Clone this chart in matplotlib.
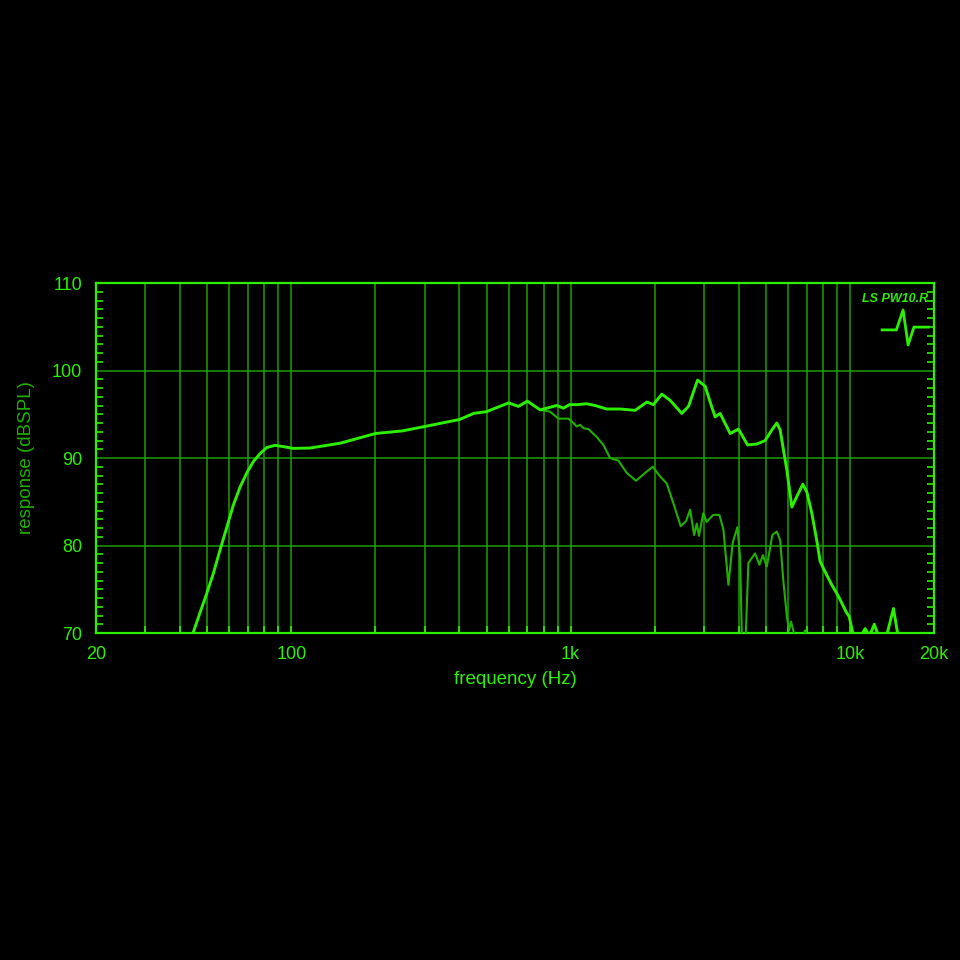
import numpy as np
import matplotlib.pyplot as plt
from matplotlib.ticker import FixedLocator, FixedFormatter, MultipleLocator, NullFormatter

# on-axis response (Hz, dB)
freq_main = [44.5, 47.1, 49.8, 52.6, 55.6, 58.8, 62.0, 65.6, 69.3, 73.2, 77.3, 81.7,
             87.5, 93.7, 101.7, 116.8, 150, 200, 250, 300, 400, 450, 500, 600, 650,
             700, 778, 822, 892, 942, 990, 1052, 1143, 1224, 1346, 1503, 1702, 1875,
             1978, 2120, 2270, 2500, 2642, 2846, 3032, 3158, 3290, 3428, 3724, 3990,
             4298, 4644, 4972, 5250, 5470, 5624, 5944, 6194, 6452, 6780, 7010, 7300,
             7604, 7816, 8144, 8608, 9092, 9356, 9688, 9930, 10234, 10800, 11100,
             11334, 11550, 11870, 12220, 12530, 13100, 13600, 14310, 14800, 15500]
db_main = [70.0, 72.3, 74.5, 76.8, 79.5, 82.1, 84.6, 86.7, 88.3, 89.6, 90.5, 91.2,
           91.45, 91.3, 91.1, 91.14, 91.7, 92.8, 93.1, 93.6, 94.4, 95.1, 95.3, 96.3,
           95.9, 96.5, 95.5, 95.7, 96.0, 95.7, 96.1, 96.1, 96.2, 96.0, 95.6, 95.6,
           95.45, 96.4, 96.1, 97.3, 96.6, 95.1, 95.9, 98.9, 98.2, 96.4, 94.7, 95.1,
           92.8, 93.3, 91.5, 91.6, 92.0, 93.2, 94.0, 93.2, 88.6, 84.4, 85.6, 87.0,
           86.1, 83.7, 80.6, 78.2, 77.0, 75.5, 74.2, 73.4, 72.4, 71.9, 70.0, 68.0,
           70.0, 70.5, 70.0, 70.0, 71.0, 70.0, 68.0, 70.0, 72.8, 70.0, 67.0]

# off-axis response (Hz, dB)
freq_off = [778, 844, 904, 982, 1024, 1052, 1082, 1112, 1159, 1240, 1310, 1384, 1482,
            1588, 1715, 1848, 1968, 2090, 2208, 2334, 2478, 2590, 2678, 2768, 2828,
            2880, 2984, 3070, 3238, 3408, 3524, 3672, 3802, 3952, 4042, 4112, 4216,
            4328, 4572, 4742, 4876, 5038, 5274, 5470, 5624, 5768, 5944, 6050, 6150,
            6300, 6400, 6700, 6900, 7100]
db_off = [95.5, 95.3, 94.5, 94.5, 94.0, 93.6, 93.8, 93.4, 93.3, 92.4, 91.5, 90.0, 89.7,
          88.3, 87.4, 88.3, 89.0, 87.9, 87.1, 84.8, 82.2, 82.8, 84.1, 81.2, 82.5,
          81.1, 83.7, 82.7, 83.5, 83.5, 81.8, 75.5, 80.3, 82.1, 78.7, 68.0, 68.0,
          78.0, 79.1, 77.8, 78.9, 77.6, 81.2, 81.6, 80.6, 76.1, 71.9, 70.3, 71.3,
          70.0, 68.0, 69.0, 70.3, 69.0]

x_ticks = [20, 100, 1000, 10000, 20000]
x_labels = ["20", "100", "1k", "10k", "20k"]
y_ticks = [70, 80, 90, 100, 110]

bright = "#2cf000"
dim = "#22b000"
grid_c = "#1fae00"

plt.rcParams['font.family'] = ['Liberation Sans', 'DejaVu Sans']
fig = plt.figure(figsize=(9.6, 9.6), dpi=100, facecolor="black")
ax = fig.add_axes([0.1, 0.3406, 0.873, 0.3646], facecolor="black")

ax.set_xscale("log")
ax.set_xlim(20, 20000)
ax.set_ylim(70, 110)

# grid
ax.grid(True, which="both", axis="x", color=grid_c, linewidth=1.1, alpha=0.9)
ax.grid(True, which="major", axis="y", color=grid_c, linewidth=1.1, alpha=0.9)

ax.plot(freq_off, db_off, color=dim, linewidth=1.5, zorder=3,
        solid_joinstyle="round", solid_capstyle="round")
ax.plot(freq_main, db_main, color=bright, linewidth=2.1, zorder=4,
        solid_joinstyle="round", solid_capstyle="round")

ax.xaxis.set_major_locator(FixedLocator(x_ticks))
ax.xaxis.set_major_formatter(FixedFormatter(x_labels))
ax.xaxis.set_minor_formatter(NullFormatter())
ax.yaxis.set_major_locator(FixedLocator(y_ticks))
ax.yaxis.set_minor_locator(MultipleLocator(1))

ax.tick_params(axis="both", which="both", direction="in", colors=bright,
               labelsize=13, labelcolor=bright, top=False, right=True)
ax.tick_params(axis="y", which="minor", length=5, width=1.2)
ax.tick_params(axis="y", which="major", length=0)
ax.tick_params(axis="x", which="both", length=5, width=1.2, pad=9)
ax.tick_params(axis="y", pad=10)

for s in ax.spines.values():
    s.set_color(bright)
    s.set_linewidth(1.6)

ax.set_xlabel("frequency (Hz)", color=bright, fontsize=13.5, labelpad=6)
ax.set_ylabel("response (dBSPL)", color=dim, fontsize=13.5, labelpad=12)

# logo
ax.text(0.993, 0.955, "LS PW10.R", transform=ax.transAxes, ha="right", va="center",
        color=bright, fontsize=9, fontweight="bold", style="italic", zorder=5)
ax.plot([0.938, 0.955, 0.963, 0.969, 0.976, 0.993],
        [0.866, 0.866, 0.923, 0.823, 0.874, 0.874],
        transform=ax.transAxes, color=bright, linewidth=2, zorder=5, clip_on=False)

fig.savefig("out.png", dpi=100, facecolor="black")
